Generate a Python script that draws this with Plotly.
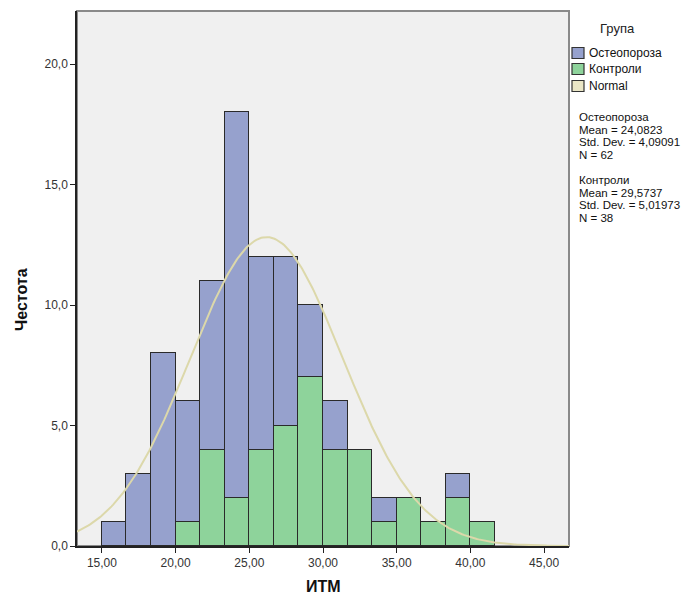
import numpy as np
import plotly.graph_objects as go

# Histogram bins (BMI / ИТМ), width 5/3 starting at 15
bin_start = 15.0
bin_width = 5.0 / 3.0
control_counts = [0, 0, 0, 1, 4, 2, 4, 5, 7, 4, 4, 1, 2, 1, 2, 1]
osteo_counts = [1, 3, 8, 5, 7, 16, 8, 7, 3, 2, 0, 1, 0, 0, 1, 0]

# Group statistics shown in the legend area
group_names = ["Остеопороза", "Контроли"]
group_means = [24.0823, 29.5737]
group_sds = [4.09091, 5.01973]
group_ns = [62, 38]

legend_title = "Група"
legend_labels = ["Остеопороза", "Контроли", "Normal"]

col_osteo = "#96A1CD"
col_control = "#8ED39B"
col_normal = "#DCD8AA"
col_normal_sw = "#EAE6C6"
legend_colors = [col_osteo, col_control, col_normal_sw]

centers = [bin_start + bin_width * (i + 0.5) for i in range(len(control_counts))]

# Normal curve over all cases (pooled)
n_tot = sum(group_ns)
mean_tot = sum(m * n for m, n in zip(group_means, group_ns)) / n_tot
ss = sum((n - 1) * s ** 2 + n * (m - mean_tot) ** 2 for m, s, n in zip(group_means, group_sds, group_ns))
sd_tot = np.sqrt(ss / (n_tot - 1))
xr = [13.31, 46.69]
xc = np.linspace(xr[0], xr[1], 300)
yc = n_tot * bin_width / (sd_tot * np.sqrt(2 * np.pi)) * np.exp(-0.5 * ((xc - mean_tot) / sd_tot) ** 2)

fig = go.Figure()
fig.add_trace(go.Bar(x=centers, y=control_counts, width=bin_width, name="Контроли",
                     marker=dict(color=col_control, line=dict(color="#2a2a2a", width=1.2)),
                     showlegend=False))
fig.add_trace(go.Bar(x=centers, y=osteo_counts, width=bin_width, name="Остеопороза",
                     marker=dict(color=col_osteo, line=dict(color="#2a2a2a", width=1.2)),
                     showlegend=False))
fig.add_trace(go.Scatter(x=xc, y=yc, mode="lines", name="Normal",
                         line=dict(color=col_normal, width=2),
                         showlegend=False, hoverinfo="skip"))

font_family = "Liberation Sans, Arial, sans-serif"

ML, MR, MT, MB = 77, 128, 11, 52
W, H = 697, 598
PW, PH = W - ML - MR, H - MT - MB


def px_x(p):
    return (p - ML) / PW


def px_y(p):
    return (H - MB - p) / PH


fig.update_layout(
    width=W, height=H,
    margin=dict(l=ML, r=MR, t=MT, b=MB, autoexpand=False),
    paper_bgcolor="white",
    plot_bgcolor="#F0F0F0",
    barmode="stack",
    bargap=0,
    separators=", ",
    font=dict(family=font_family, size=12, color="#222"),
    showlegend=False,
    xaxis=dict(
        range=xr, tickvals=[15, 20, 25, 30, 35, 40, 45], tickformat=".2f",
        ticks="outside", ticklen=5, tickcolor="#222", showline=True, linecolor="#222", linewidth=1.5,
        showgrid=False, zeroline=False, automargin=False,
        tickfont=dict(size=12, color="#333"),
    ),
    yaxis=dict(
        range=[0, 22.2], tickvals=[0, 5, 10, 15, 20], tickformat=".1f",
        ticks="outside", ticklen=5, tickcolor="#222", showline=True, linecolor="#222", linewidth=1.5,
        showgrid=False, zeroline=False, automargin=False,
        tickfont=dict(size=12, color="#333"),
    ),
)

fig.add_shape(type="rect", xref="paper", yref="paper", x0=0, y0=0, x1=1, y1=1,
              line=dict(color="#8a8a8a", width=2), layer="below")

# Axis titles
fig.add_annotation(xref="paper", yref="paper", x=px_x(323), y=px_y(597), xanchor="center", yanchor="bottom",
                   text="<b>ИТМ</b>", showarrow=False, font=dict(size=16, color="#111", family=font_family))
fig.add_annotation(xref="paper", yref="paper", x=px_x(21), y=px_y(300), xanchor="center", yanchor="middle",
                   text="<b>Честота</b>", textangle=-90, showarrow=False,
                   font=dict(size=16, color="#111", family=font_family))

# Legend (drawn)
fig.add_annotation(xref="paper", yref="paper", x=px_x(598), y=px_y(28), xanchor="left", yanchor="middle",
                   text=legend_title, showarrow=False, font=dict(size=13, color="#222", family=font_family))
leg_y = [53, 69, 86]
for lab, col, yy in zip(legend_labels, legend_colors, leg_y):
    fig.add_shape(type="rect", xref="paper", yref="paper",
                  x0=px_x(572), x1=px_x(584), y0=px_y(yy + 5.5), y1=px_y(yy - 5.5),
                  fillcolor=col, line=dict(color="#333", width=1.2))
    fig.add_annotation(xref="paper", yref="paper", x=px_x(587), y=px_y(yy), xanchor="left", yanchor="middle",
                       text=lab, showarrow=False, font=dict(size=12, color="#111", family=font_family))

# Statistics text
stat_y0 = [117, 180]
for name, m, s, n, y0 in zip(group_names, group_means, group_sds, group_ns, stat_y0):
    lines = [name,
             "Mean = " + ("%.4f" % m).replace(".", ","),
             "Std. Dev. = " + ("%.5f" % s).replace(".", ","),
             "N = %d" % n]
    for k, ln in enumerate(lines):
        fig.add_annotation(xref="paper", yref="paper", x=px_x(578), y=px_y(y0 + k * 12.6),
                           xanchor="left", yanchor="middle", text=ln, showarrow=False,
                           borderpad=0,
                           font=dict(size=11.5, color="#111", family=font_family))

fig.write_html("out.html")
